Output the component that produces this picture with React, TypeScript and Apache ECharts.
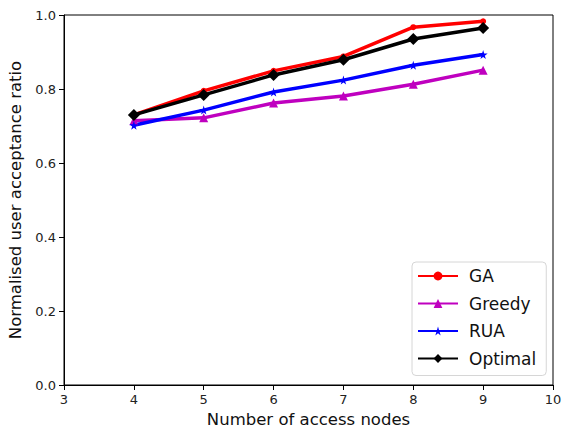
import React, { useEffect, useRef } from "react";
import * as echarts from "echarts";

const nodes = [4, 5, 6, 7, 8, 9];
const gaValues = [0.730, 0.795, 0.849, 0.888, 0.967, 0.983];
const greedyValues = [0.714, 0.722, 0.762, 0.781, 0.813, 0.851];
const ruaValues = [0.702, 0.743, 0.792, 0.824, 0.864, 0.893];
const optimalValues = [0.730, 0.784, 0.838, 0.879, 0.935, 0.965];
const seriesNames = ["GA", "Greedy", "RUA", "Optimal"];
const xTicks = [3, 4, 5, 6, 7, 8, 9, 10];
const yTicks = [0, 0.2, 0.4, 0.6, 0.8, 1.0];

const STAR =
  "path://M50,0 L61,35 L98,35 L68,57 L79,91 L50,70 L21,91 L32,57 L2,35 L39,35 Z";

export default function App() {
  const ref = useRef<HTMLDivElement>(null);
  useEffect(() => {
    if (!ref.current) return;
    const chart = echarts.init(ref.current, null, { renderer: "svg" });
    const font = "DejaVu Sans";
    const pair = (vals: number[]) => nodes.map((n, i) => [n, vals[i]]);
    const mk = (
      name: string,
      vals: number[],
      color: string,
      symbol: string,
      size: number
    ) => ({
      name,
      type: "line",
      data: pair(vals),
      symbol,
      symbolSize: size,
      showSymbol: true,
      lineStyle: { color, width: 3.5 },
      itemStyle: { color, borderWidth: 0 },
      emphasis: { disabled: true },
    });
    chart.setOption({
      animation: false,
      backgroundColor: "#ffffff",
      textStyle: { fontFamily: font },
      grid: {
        left: 64,
        right: 13,
        top: 15,
        bottom: 43,
        outerBoundsMode: "none",
        containLabel: false,
        show: true,
        borderColor: "#000",
        borderWidth: 1,
        backgroundColor: "transparent",
      },
      xAxis: {
        type: "value",
        min: 3,
        max: 10,
        interval: 1,
        name: "Number of access nodes",
        nameLocation: "middle",
        nameGap: 26,
        nameTextStyle: { fontSize: 16.5, color: "#111", fontFamily: font },
        axisLine: { show: true, onZero: false, lineStyle: { color: "#000", width: 1 } },
        axisTick: { show: true, length: 5, inside: false, lineStyle: { color: "#000" } },
        axisLabel: {
          fontSize: 13,
          color: "#222",
          margin: 8,
          fontFamily: font,
          formatter: (v: number) => (xTicks.includes(v) ? String(v) : ""),
        },
        splitLine: { show: false },
      },
      yAxis: {
        type: "value",
        min: 0,
        max: 1,
        interval: 0.2,
        name: "Normalised user acceptance ratio",
        nameLocation: "middle",
        nameGap: 36,
        nameTextStyle: { fontSize: 16.5, color: "#111", fontFamily: font },
        axisLine: { show: true, lineStyle: { color: "#000", width: 1 } },
        axisTick: { show: true, length: 5, inside: false, lineStyle: { color: "#000" } },
        axisLabel: {
          fontSize: 13,
          color: "#222",
          margin: 8,
          fontFamily: font,
          formatter: (v: number) => {
            const t = yTicks.find((y) => Math.abs(y - v) < 1e-9);
            return t === undefined ? "" : t.toFixed(1);
          },
        },
        splitLine: { show: false },
      },
      legend: {
        orient: "vertical",
        left: 412,
        top: 262,
        padding: [5, 10, 8, 5],
        itemGap: 9.5,
        itemWidth: 40,
        itemHeight: 11,
        backgroundColor: "rgba(255,255,255,0.8)",
        borderColor: "#d6d6d6",
        borderWidth: 1,
        borderRadius: 4,
        textStyle: {
          fontSize: 17,
          color: "#111",
          fontFamily: font,
          lineHeight: 18,
          padding: [0, 0, 0, 6],
        },
        data: seriesNames,
      },
      series: [
        mk(seriesNames[0], gaValues, "#ff0000", "circle", 6),
        mk(seriesNames[1], greedyValues, "#bf00bf", "triangle", 9),
        mk(seriesNames[2], ruaValues, "#0000ff", STAR, 9),
        mk(seriesNames[3], optimalValues, "#000000", "diamond", 12),
      ],
    });
    return () => chart.dispose();
  }, []);
  return (
    <div
      ref={ref}
      style={{ position: "fixed", left: 0, top: 0, width: 566, height: 428 }}
    />
  );
}
